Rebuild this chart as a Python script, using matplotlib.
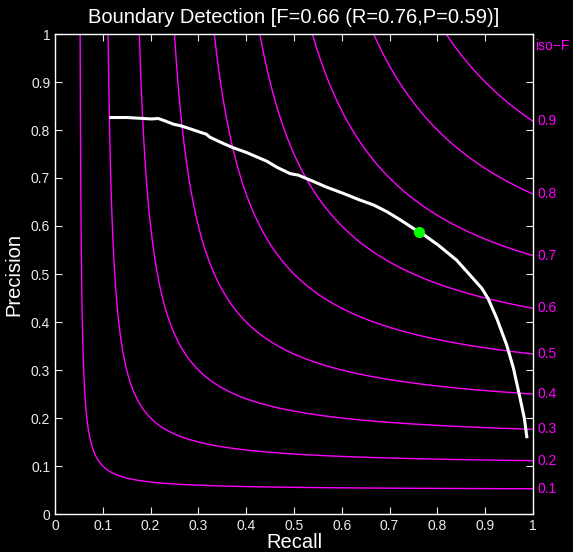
import numpy as np
import matplotlib.pyplot as plt

plt.rcParams['font.family'] = ['Liberation Sans', 'DejaVu Sans']

# boundary PR curve
recall = [0.117, 0.150, 0.185, 0.202, 0.216, 0.230, 0.248, 0.262, 0.275, 0.296,
          0.317, 0.324, 0.352, 0.373, 0.401, 0.422, 0.443, 0.465, 0.492, 0.509,
          0.533, 0.568, 0.603, 0.638, 0.666, 0.694, 0.722, 0.762, 0.774, 0.802,
          0.840, 0.868, 0.893, 0.906, 0.924, 0.945, 0.959, 0.973, 0.982, 0.987]
precision = [0.826, 0.826, 0.824, 0.823, 0.824, 0.819, 0.812, 0.809, 0.805, 0.798,
             0.791, 0.785, 0.772, 0.763, 0.753, 0.744, 0.735, 0.722, 0.709, 0.706,
             0.696, 0.681, 0.668, 0.654, 0.644, 0.630, 0.613, 0.587, 0.580, 0.560,
             0.529, 0.498, 0.470, 0.449, 0.408, 0.352, 0.304, 0.241, 0.199, 0.161]
best_r, best_p = 0.762, 0.587
best_f = 2 * best_r * best_p / (best_r + best_p)
iso_levels = [0.1, 0.2, 0.3, 0.4, 0.5, 0.6, 0.7, 0.8, 0.9]

mag = (1, 0, 1)
fg = (0.92, 0.92, 0.92)

fig = plt.figure(figsize=(5.73, 5.52), dpi=100, facecolor='black')
ax = fig.add_axes([55/573, 38/552, 478/573, 480/552], facecolor='black')

# iso-F contours
r = np.linspace(0.001, 1, 800)
R, P = np.meshgrid(r, r)
F = 2 * P * R / (P + R)
ax.contour(R, P, F, levels=iso_levels, colors=[mag], linewidths=1.0)
for f in iso_levels:
    ax.text(1.01, f / (2 - f), '%.1f' % f, color=mag, fontsize=10,
            va='center', ha='left', clip_on=False)
ax.text(1.005, 0.975, 'iso\u2212F', color=mag, fontsize=10, va='center', ha='left',
        clip_on=False)

ax.plot(recall, precision, color='white', lw=2.2, solid_joinstyle='round')
ax.plot([best_r], [best_p], 'o', color=(0, 1, 0), ms=7)

ax.set_xlim(0, 1)
ax.set_ylim(0, 1)
ticks = np.arange(0, 1.01, 0.1)
labels = ['0'] + ['%.1f' % t for t in ticks[1:-1]] + ['1']
ax.set_xticks(ticks)
ax.set_yticks(ticks)
ax.set_xticklabels(labels)
ax.set_yticklabels(labels)
ax.tick_params(direction='in', length=5, color=fg, labelcolor=fg,
               labelsize=10, top=True, right=True, width=0.8)
for s in ax.spines.values():
    s.set_color('white')
    s.set_linewidth(1.0)

ax.set_xlabel('Recall', color='white', fontsize=14.5, labelpad=0)
ax.set_ylabel('Precision', color='white', fontsize=14.5, labelpad=5)
ax.set_title('Boundary Detection [F=%.2f (R=%.2f,P=%.2f)]' % (best_f, best_r, best_p),
             color='white', fontsize=14.5, pad=8)

fig.savefig('out.png', facecolor='black')
